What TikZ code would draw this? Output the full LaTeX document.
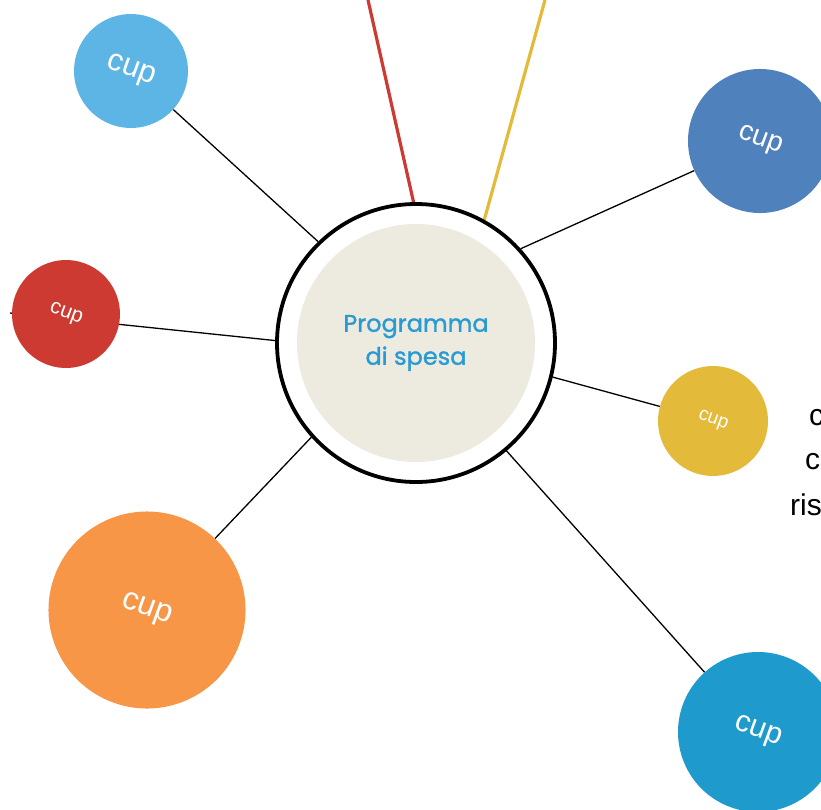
\documentclass[tikz,border=0pt]{standalone}
\usepackage{fontspec}
\newfontfamily\cupfont{Liberation Sans}
\newfontfamily\progfont[BoldFont=Poppins, BoldFeatures={FakeBold=1.3}]{Poppins}
\usetikzlibrary{backgrounds}
\definecolor{skyblue}{HTML}{5DB5E6}
\definecolor{steelblue}{HTML}{4F81BD}
\definecolor{cupred}{HTML}{CC3A32}
\definecolor{cupyellow}{HTML}{E3BA3A}
\definecolor{cuporange}{HTML}{F79646}
\definecolor{cupblue}{HTML}{1E9ACC}
\definecolor{beige}{HTML}{EDEBE0}
\definecolor{progblue}{HTML}{2A9BD2}

\begin{document}
\begin{tikzpicture}[x=1pt, y=-1pt,
  bubble/.style={circle, inner sep=0pt, text=white, rotate=-20, font=\cupfont\fontsize{#1}{#1}\selectfont},
  spoke/.style={line width=1.3pt},
  beam/.style={line width=3.2pt}]
  \clip (0,0) rectangle (821,809);
  % centre
  \node[circle, draw, line width=3.8pt, fill=white, minimum size=278pt] (prog) at (416,343) {};
  \node[circle, fill=beige, minimum size=238pt, align=center, text=progblue,
        font=\progfont\bfseries\fontsize{24}{33}\selectfont] (core) at (416,343) {Programma\\di spesa};

  % bubbles
  \node[bubble=31, fill=skyblue, minimum size=114pt] (c1) at (131,71) {cup};
  \node[bubble=28, fill=steelblue, minimum size=144pt] (c2) at (760,141) {cup};
  \node[bubble=21, fill=cupred, minimum size=108pt] (c3) at (66,314) {cup};
  \node[bubble=19, fill=cupyellow, minimum size=110pt] (c4) at (713,421) {cup};
  \node[bubble=32, fill=cuporange, minimum size=197pt] (c5) at (147,610) {cup};
  \node[bubble=30, fill=cupblue, minimum size=160pt] (c6) at (758,732) {cup};

  \coordinate (redtop) at (368,0);
  \coordinate (yellowtop) at (545,0);
  \coordinate (redend) at (10,313);

  % cut-off text on the right
  \node[anchor=west, inner sep=0pt, font=\cupfont\fontsize{30}{30}\selectfont] (t1) at (809,418) {c};
  \node[anchor=west, inner sep=0pt, font=\cupfont\fontsize{30}{30}\selectfont] (t2) at (805,462) {c};
  \node[anchor=west, inner sep=0pt, font=\cupfont\fontsize{30}{30}\selectfont] (t3) at (790,505) {ris};

  \begin{scope}[on background layer]
    \draw[beam, cupred] (prog.91) -- (redtop);
    \draw[beam, cupyellow] (prog.61) -- (yellowtop);
    \draw[spoke] (prog.134) -- (c1);
    \draw[spoke] (prog.42) -- (c2);
    \draw[spoke] (prog.179) -- (redend);
    \draw[spoke] (prog.-14) -- (c4);
    \draw[spoke] (prog.222) -- (c5);
    \draw[spoke] (prog.-50) -- (c6);
  \end{scope}
\end{tikzpicture}
\end{document}
